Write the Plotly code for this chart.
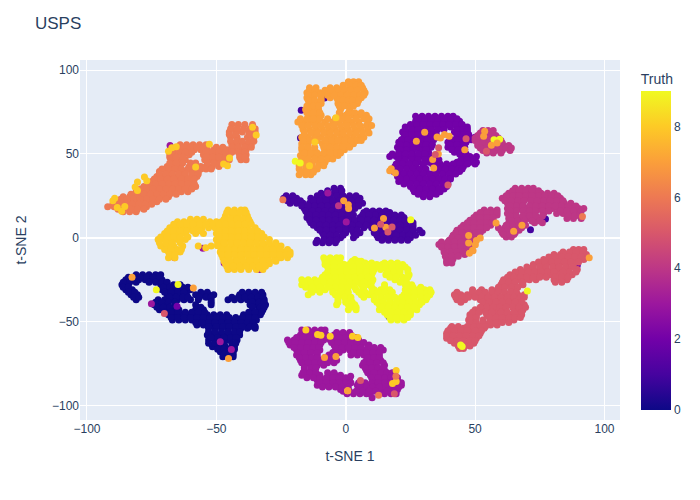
import plotly.express as px
import pandas as pd

# each cluster: rows of (t-SNE 2, [t-SNE 1 values])
class0_rows = [
    (-22, [-81, -78.5, -76, -73.5, -71.5]),
    (-25, [-85, -82.5, -80, -77.5, -75, -72.5, -71]),
    (-28, [-86.5, -84, -71.5, -69, -66.5, -64]),
    (-31, [-85, -82.5, -71, -68.5, -66, -63.5, -61, -60]),
    (-34, [-83, -80.5, -69, -66.5, -64, -61.5, -58, -55.5, -53, -51, -41, -38.5, -36, -33.5, -32]),
    (-37, [-81, -72.5, -70, -67.5, -65, -62.5, -60, -57, -52, -45.5, -43, -40.5, -38, -35.5, -33, -31.5]),
    (-40, [-74, -71.5, -69, -66, -58, -52, -37, -34.5, -32, -31]),
    (-43, [-72, -69.5, -67, -64.5, -58, -55, -36, -33.5, -32]),
    (-46, [-68.5, -66, -63.5, -61, -58.5, -56, -53.5, -51, -48.5, -46, -39.5, -37, -34.5, -33]),
    (-49, [-67, -64.5, -62, -59.5, -57, -54.5, -52, -49.5, -47, -44.5, -42, -39.5, -37, -34.5]),
    (-52, [-57.5, -55, -52.5, -50, -47.5, -45, -42.5, -40, -37.5, -35.5]),
    (-54, [-53, -50.5, -48, -45.5, -43, -40.5, -38, -35]),
    (-58, [-53.5, -51, -48.5, -46, -43.5, -41]),
    (-61, [-53, -50.5, -48, -45.5, -42]),
    (-65, [-51.5, -49, -46.5, -44, -43]),
    (-68, [-48.5, -46, -43.5]),
    (-71, [-47.5, -45, -43.5]),
    (-23.5, [-84, -82, -79.5, -77, -74.5, -72]),
    (-26.5, [-86, -83.5, -81, -76, -73.5, -71, -69]),
    (-29.5, [-86, -84, -70.5, -68, -65.5, -63, -61]),
    (-32.5, [-84, -81.5, -70, -67.5, -65, -62.5, -56, -53.5, -40, -37.5, -35, -32.5]),
    (-35.5, [-82, -80, -68, -65.5, -63, -61, -56.5, -54, -52, -44, -41.5, -39, -36.5, -34, -32]),
    (-38.5, [-73.5, -71, -68.5, -66, -52, -36, -33.5, -31.5]),
    (-41.5, [-73, -70.5, -68, -65.5, -56, -36, -33, -31.5]),
    (-44.5, [-70, -67.5, -65, -62, -59.5, -57, -54.5, -37.5, -35, -32.5]),
    (-47.5, [-67.5, -65, -62.5, -60, -57.5, -55, -52.5, -50, -47.5, -45, -42.5, -40, -37.5, -35]),
    (-50.5, [-58, -55.5, -53, -50.5, -48, -45.5, -43, -40.5, -38, -36]),
    (-53, [-53, -50, -47.5, -45, -42.5, -40, -37, -35]),
    (-56, [-53, -50.5, -48, -45.5, -43, -41]),
    (-59.5, [-52, -49.5, -47, -44.5, -42.5]),
    (-63, [-53, -50.5, -47, -44, -42.5]),
    (-66.5, [-49.5, -47, -45, -43]),
    (-69.5, [-47, -45, -43.5]),
]
class1_rows = [
    (29.5, [-4.5, -2]),
    (26.5, [-9.5, -7, -4.5, -2]),
    (23.5, [-24, -21.5, -19, -13.5, -11, -8.5, -6, -3.5, -1, 1, 3.5, 5.5]),
    (20.5, [-21.5, -19, -16.5, -14, -11.5, -9, -6.5, -4, -1.5, 1, 3.5, 6.5]),
    (17.5, [-16, -13.5, -11, -8.5, -6, -3.5, -1, 1.5, 3.5]),
    (15, [-15, -12.5, -10, -7.5, -5, -2.5, 0, 2, 7, 9.5, 12, 14.5, 17]),
    (12, [-15, -12.5, -10, -7.5, -5, -3, 0, 2.5, 5.5, 8, 10.5, 13, 15.5, 18, 20.5, 22.5]),
    (9, [-13.5, -11, -8.5, -6, -3.5, -1, 1.5, 4, 6.5, 9, 11.5, 14, 16.5, 19, 21.5, 26]),
    (6, [-11, -8.5, -6, -3.5, -1, 1.5, 4, 7, 10, 12.5, 15, 17.5, 20, 22.5, 25, 26]),
    (3, [-9, -6.5, -4, -1, 0, 3, 5.5, 11, 13.5, 16, 18.5, 21, 23.5, 26, 29.5]),
    (0, [-7.5, -5, -2, 3, 12.5, 15, 17.5, 20, 22.5, 25]),
    (-3, [-11.5, -9, -6.5, -4]),
    (28, [-7, -4, -1.5]),
    (25, [-23, -20.5, -11, -8.5, -6, -3.5, -1, 1.5, 4]),
    (22, [-22.5, -20, -17.5, -12.5, -10, -7.5, -5, -2.5, 0, 2, 5]),
    (19, [-17, -14.5, -12, -9.5, -7, -4.5, -2, 0.5, 3, 5]),
    (16, [-15.5, -13, -10.5, -8, -5.5, -3, -0.5, 2, 8, 10.5, 13, 15.5]),
    (13.5, [-14, -11.5, -9, -6.5, -4, -1.5, 1, 3, 6.5, 9, 11.5, 14, 16.5, 19, 21.5]),
    (10.5, [-14, -11.5, -9, -6.5, -4, -1.5, 1, 3.5, 6, 8.5, 11, 13.5, 16, 18.5, 21, 23]),
    (7.5, [-12.5, -10, -7.5, -5, -2.5, 0, 2.5, 5, 8, 11, 13.5, 16, 18.5, 21, 23.5, 26]),
    (4.5, [-10, -7.5, -5, -2.5, 0, 2.5, 4.5, 11, 13.5, 16, 18.5, 21, 23.5, 26, 28.5]),
    (1.5, [-8.5, -6, -3.5, -1, 4, 12, 14.5, 17, 19.5, 22, 24.5, 27]),
    (-1.5, [-11, -8.5, -6, -3.5, 14, 16.5, 19, 21.5, 24]),
]
class2_rows = [
    (72.5, [27, 29.5, 32, 34.5, 37, 39.5, 41.5]),
    (69.5, [27, 29.5, 32, 34.5, 37, 39.5, 42, 44]),
    (66, [23, 25.5, 28, 30.5, 33, 35.5, 38, 40.5, 43, 45.5, 47]),
    (63, [22, 24.5, 27, 29.5, 32, 34.5, 42, 44.5, 47]),
    (60, [22.5, 25, 27.5, 30, 32.5, 35, 43, 45.5, 48, 50]),
    (57, [20.5, 23, 25.5, 28, 30.5, 33, 39.5, 42, 44.5, 46.5]),
    (54, [20, 22.5, 25, 27.5, 30, 33, 39.5, 42, 44.5, 46]),
    (51, [20.5, 23, 25.5, 29, 32, 42, 44.5, 46]),
    (48.5, [17, 19.5, 21, 23.5, 26, 28.5, 31, 33.5, 45.5, 48, 50.5]),
    (45, [20.5, 23, 25.5, 28, 32, 35, 43, 45.5, 48, 50.5]),
    (42.5, [19, 21.5, 24, 27, 30, 35.5, 38, 40.5, 43, 45.5]),
    (39.5, [18.5, 21, 23.5, 26, 28.5, 31, 34.5, 37, 39.5, 42, 44]),
    (36.5, [20, 22.5, 25, 27.5, 30, 32.5, 35, 37.5, 40.5]),
    (33.5, [20.5, 23, 25.5, 28, 30.5, 33, 35.5, 38, 39]),
    (30.5, [25, 27.5, 30, 32.5, 35, 37.5, 39]),
    (27.5, [26.5, 29, 31.5, 34, 36.5]),
    (24.5, [30, 32.5]),
    (71, [28, 30.5, 33, 35.5, 38, 40.5, 43]),
    (67.5, [25, 27.5, 30, 32.5, 35, 37.5, 40, 42.5, 45]),
    (64.5, [23, 25.5, 28, 30.5, 33, 35.5, 38, 43, 45.5, 47]),
    (61.5, [23, 25.5, 28, 30.5, 33, 35, 43, 45.5, 47.5]),
    (58.5, [21.5, 24, 26.5, 29, 31.5, 34, 41, 43.5, 46, 48.5]),
    (55.5, [21, 23.5, 26, 28.5, 31, 33.5, 40.5, 43, 45.5]),
    (52.5, [21, 23.5, 26, 28.5, 31, 41, 43.5, 46]),
    (50, [18, 20.5, 23, 25.5, 28, 30.5, 44, 46.5]),
    (46.5, [20.5, 23, 25.5, 28, 30.5, 33, 36, 44.5, 47, 49.5]),
    (44, [19.5, 22, 24.5, 27, 30, 33.5, 36.5, 39, 41.5, 44, 47, 50]),
    (41, [18.5, 21, 23.5, 26, 28.5, 31, 36, 38.5, 41, 43.5, 45]),
    (38, [20, 22.5, 25, 27.5, 30, 32.5, 35, 37.5, 40, 42.5]),
    (35, [21, 23.5, 26, 28.5, 31, 33.5, 36, 38.5, 40.5]),
    (32, [22.5, 25, 27.5, 30, 32.5, 35, 37.5, 39.5]),
    (29, [26, 28.5, 31, 33.5, 36, 38]),
    (26, [28, 30.5, 33, 35]),
]
class3_rows = [
    (-55, [-17, -14.5, -12, -9.5, -8]),
    (-58, [-17.5, -15, -12.5, -10, -7.5, -4.5, -2, 0.5, 2]),
    (-61, [-22.5, -20, -17.5, -15, -12.5, -10, -8.5, -6, -3.5, -1, 1.5, 4, 5]),
    (-64, [-21.5, -19, -16.5, -14, -11.5, -10, -4.5, -2, 0.5, 3, 5.5, 9]),
    (-67, [-19, -16.5, -14, -11.5, -10, -3.5, -1, 1.5, 4, 6.5, 9, 11.5, 14.5]),
    (-70, [-19, -16.5, -14, -11, -6.5, -4, 2, 4.5, 7, 9.5, 12, 13]),
    (-73, [-17.5, -15, -12.5, -10, -7.5, -5, -3.5, 8, 10.5, 13.5]),
    (-76, [-16, -13.5, -11, -8.5, 6.5, 9, 11.5, 15]),
    (-79, [-16, -13.5, -12, 8, 10.5, 13, 15]),
    (-82, [-17, -14.5, -12, -10, -6.5, -4, -2, 9.5, 12, 14.5, 17, 19]),
    (-85, [-11, -8.5, -6, -3.5, -1, 1.5, 10.5, 13, 15.5, 18, 20]),
    (-88, [-11, -8.5, -6, -3.5, -1, 4.5, 7, 9.5, 12, 14.5, 17, 19.5, 21.5]),
    (-90.5, [-2, 0.5, 6, 8.5, 11, 13.5, 16, 18.5, 20]),
    (-93, [0.5, 3, 5.5, 8, 9.5, 15, 17.5, 19.5]),
    (-56.5, [-16, -13.5, -11, -8.5, -3.5, -1, 1.5]),
    (-59.5, [-19, -16.5, -14, -11.5, -9, -5, -2.5, 0, 2.5, 4]),
    (-62.5, [-22, -19.5, -17, -14.5, -12, -9.5, -5.5, -3, -0.5, 2, 4.5, 7]),
    (-65.5, [-20, -17.5, -15, -12.5, -10.5, -4, -1.5, 1, 3.5, 6, 8.5, 11, 13.5]),
    (-68.5, [-18.5, -16, -13.5, -11, -5, -2.5, 3, 5.5, 8, 10.5, 13]),
    (-71.5, [-18, -15.5, -13, -11, -8, -5.5, 8.5, 11, 13]),
    (-74.5, [-17, -14.5, -12, -9.5, -7, -4.5, 7, 9.5, 12, 14.5]),
    (-77.5, [-16, -13.5, -11.5, 7.5, 10, 12.5, 14.5]),
    (-80.5, [-16.5, -14, -11.5, -7, -4.5, 8.5, 11, 13.5, 16, 18]),
    (-83.5, [-15, -12.5, -10, -7.5, -5, -2.5, 0, 10, 12.5, 15, 17.5, 20]),
    (-86.5, [-10, -7.5, -5, -2.5, 0, 2, 5, 7.5, 10, 12.5, 15, 17.5, 20, 21.5]),
    (-89, [-9, -6.5, -4, -1.5, 1, 5.5, 8, 10.5, 13, 15.5, 18, 20.5]),
    (-91.5, [-1, 1.5, 4, 6.5, 9, 11.5, 16, 18.5]),
]
class4_rows = [
    (64, [53, 55, 57]),
    (61, [51, 53, 55.5, 58]),
    (58, [50, 52.5, 55, 57.5, 60]),
    (55, [51, 53.5, 56, 58.5, 61, 63]),
    (52, [53, 55.5, 58, 60.5, 63.5]),
    (62.5, [52, 54, 56.5]),
    (59.5, [50, 52, 54.5, 57, 59]),
    (56.5, [51, 53, 55.5, 58, 60.5]),
    (53.5, [52, 54.5, 57, 59.5, 62, 64]),
    (50.5, [54.5, 57, 60]),
    (29.5, [65.5, 68, 70.5, 72.5]),
    (26.5, [63, 65.5, 68, 70.5, 73, 75.5, 78, 80.5]),
    (23.5, [60.5, 63, 65.5, 68, 70.5, 73, 75.5, 78, 80.5, 83]),
    (20.5, [62.5, 65, 67.5, 72, 74.5, 77, 79.5, 82, 84.5, 87]),
    (17.5, [62.5, 65, 67.5, 70, 72.5, 75, 77.5, 80, 82.5, 85, 87.5, 90, 92]),
    (14.5, [62.5, 65, 70, 72.5, 76.5, 81.5, 84, 86.5, 89, 90.5]),
    (11.5, [63, 65.5, 68, 70.5, 73, 75, 85.5, 88, 91]),
    (9, [63, 65.5, 68.5, 73, 76]),
    (6, [59, 61.5, 64, 66.5, 68]),
    (3, [60.5, 63, 65.5]),
    (0.5, [62, 64]),
    (28, [64.5, 67, 69.5, 72, 74.5]),
    (25, [62, 64.5, 67, 69.5, 72, 74.5, 77, 79.5, 82]),
    (22, [61.5, 64, 66.5, 69, 71.5, 74, 76.5, 79, 81.5, 84]),
    (19, [63.5, 66, 68.5, 71, 73.5, 76, 78.5, 81, 83.5, 86, 89]),
    (16, [63.5, 66, 68.5, 71, 73.5, 76, 78.5, 83, 85.5, 88, 91]),
    (13, [63.5, 66, 68.5, 71, 73.5, 76, 86, 88.5, 90.5]),
    (10, [64, 66.5, 69, 72, 75]),
    (7.5, [62, 64.5, 67, 69.5]),
    (4.5, [60, 62.5, 65, 67]),
    (2, [61, 63.5, 65]),
    (16.5, [53.5, 56, 58.5]),
    (13.5, [50.5, 53, 55.5, 58.5]),
    (10.5, [48, 50.5, 53, 55.5, 57]),
    (7.5, [45.5, 48, 50.5, 53, 56]),
    (4.5, [43, 45.5, 48, 50.5, 53]),
    (1.5, [41.5, 44, 46.5, 49.5]),
    (-1.5, [40, 42.5, 45, 47.5, 49.5]),
    (-4, [36, 38.5, 41, 43.5, 46, 48.5]),
    (-7, [38, 40.5, 43, 45.5, 47]),
    (-10, [38.5, 41, 43.5, 46]),
    (-12.5, [39, 41.5]),
    (-15, [39, 41]),
    (15, [52, 54.5, 57, 58.5]),
    (12, [49.5, 52, 54.5, 57]),
    (9, [47, 49.5, 52, 54.5, 56.5]),
    (6, [44.5, 47, 49.5, 52, 54.5]),
    (3, [42.5, 45, 47.5, 50.5, 52]),
    (0, [41, 43.5, 46, 48.5]),
    (-2.5, [37, 39.5, 42, 44.5, 47, 49]),
    (-5.5, [37, 39.5, 42, 44.5, 47]),
    (-8.5, [38, 40.5, 43, 45.5]),
    (-11, [38.5, 41, 43.5]),
    (-14, [39, 41]),
]
class5_rows = [
    (-7, [88, 90, 92]),
    (-10, [80.5, 83, 85.5, 88, 90.5, 93]),
    (-13, [76.5, 79, 81.5, 84, 86.5, 89, 92]),
    (-16, [72.5, 75, 77.5, 80, 82.5, 85, 88]),
    (-19, [67.5, 70, 72.5, 75, 77.5, 80, 81.5, 83, 86, 89.5]),
    (-22, [63.5, 66, 68.5, 71, 73.5, 76, 79, 82, 84.5, 87.5]),
    (-25, [61, 63.5, 66, 69, 71, 73.5, 80.5, 83, 85.5]),
    (-28, [60, 62.5, 65, 68.5]),
    (-31, [49, 52.5, 56.5, 59, 61, 64, 65.5]),
    (-34, [42, 44.5, 47, 49, 51.5, 54, 56.5, 59, 61.5, 64, 66.5, 69]),
    (-37, [43, 46, 52, 54.5, 57, 59.5, 62, 64.5, 67.5]),
    (-40, [53.5, 56, 58.5, 61, 63.5, 66, 69]),
    (-43, [50, 52.5, 55, 58, 61, 66, 68.5]),
    (-46, [48, 50.5, 54.5, 56.5, 59, 61.5, 64, 66.5, 68]),
    (-49, [47.5, 50, 53, 56, 58.5, 61, 63, 65]),
    (-52, [48, 50.5, 53, 56, 58.5]),
    (-54, [40.5, 43, 45.5, 49, 51.5, 53.5]),
    (-57, [39, 41.5, 44, 46.5, 49, 51.5, 52]),
    (-60, [39, 41.5, 43, 45.5, 48, 50.5]),
    (-63, [42, 44.5, 47, 49.5]),
    (-66, [44, 45.5]),
    (-8.5, [84, 86.5, 89, 91.5]),
    (-11.5, [78.5, 81, 83.5, 86, 88.5, 91]),
    (-14.5, [74.5, 77, 79.5, 82, 84.5, 87, 90]),
    (-17.5, [70, 72.5, 75, 77.5, 80, 82.5, 85, 87.5]),
    (-20.5, [65.5, 68, 70.5, 73, 75.5, 78, 80.5, 84, 86.5, 89]),
    (-23.5, [62.5, 65, 67.5, 70, 72.5, 75, 77.5, 81, 83.5, 86]),
    (-26.5, [60.5, 63, 65.5, 68, 81, 83.5]),
    (-29.5, [59, 61.5, 64, 66.5]),
    (-32.5, [43, 49, 51.5, 54, 56.5, 59, 61.5, 64, 66]),
    (-35.5, [42.5, 45, 47.5, 50, 52.5, 55, 57.5, 60, 62.5, 65, 67.5, 69]),
    (-38.5, [44.5, 53, 55.5, 58, 60.5, 63, 65.5, 68]),
    (-41.5, [52, 54.5, 57, 59.5, 62, 64.5, 67, 69.5]),
    (-44.5, [49, 51.5, 54, 56.5, 60, 62.5, 65, 68]),
    (-47.5, [48, 50.5, 55.5, 58, 60.5, 63, 65.5, 67.5]),
    (-50.5, [48, 50.5, 53, 55.5, 58, 60.5, 63]),
    (-53, [41, 43.5, 47, 49.5, 52, 54]),
    (-55.5, [39.5, 42, 44.5, 47, 50, 52.5]),
    (-58.5, [39, 41.5, 44, 46.5, 49, 51.5]),
    (-61.5, [40.5, 43, 45.5, 48, 50]),
    (-64.5, [43.5, 46, 48]),
]
class6_rows = [
    (67.5, [-44, -41.5, -39, -36]),
    (63, [-45, -42.5, -40, -37.5, -35]),
    (60, [-44.5, -42, -38, -35.5]),
    (55.5, [-64, -61.5, -59, -56.5, -54, -44, -41.5, -39, -36.5]),
    (52.5, [-66, -63.5, -61, -58.5, -56, -53.5, -51, -48.5, -46, -43.5, -41, -38.5]),
    (49.5, [-68, -65.5, -63, -60.5, -55, -52.5, -50, -47.5, -45, -41, -38.5]),
    (46.5, [-67, -64.5, -62, -54.5, -52, -49.5, -47, -45, -40.5, -38.5]),
    (42.5, [-69, -66.5, -64, -60.5, -58, -56, -54, -51.5, -49]),
    (39.5, [-72, -69.5, -67, -64.5, -62, -59.5, -57]),
    (36.5, [-73, -70.5, -68, -65, -62, -59.5, -57.5]),
    (33.5, [-75, -72.5, -70, -67.5, -65, -63, -60.5]),
    (30.5, [-78, -75.5, -73, -70.5, -68, -65.5, -63, -60.5, -58]),
    (27.5, [-81, -78.5, -76, -73.5, -71, -68.5, -66, -63.5, -61]),
    (24.5, [-86, -83.5, -81, -78.5, -76, -73.5, -71, -68.5]),
    (21.5, [-88.5, -86, -83.5, -81, -78.5, -76, -73]),
    (18.5, [-92, -89.5, -87, -84.5, -82, -79.5, -77]),
    (15.5, [-86, -83.5, -81]),
    (65, [-44.5, -42, -39.5, -37, -35]),
    (61.5, [-45, -42.5, -37, -35]),
    (57.5, [-44.5, -42, -40, -37.5, -35.5]),
    (54, [-65, -62.5, -60, -57.5, -55, -50, -47.5, -44, -41.5, -39, -36.5]),
    (51, [-67, -64.5, -62, -59.5, -54, -51.5, -49, -46.5, -44, -41.5, -39]),
    (48, [-68, -65.5, -63, -54, -51.5, -49, -46.5, -41, -39]),
    (44.5, [-68, -65.5, -63, -60, -58, -53.5, -51, -48.5, -46.5]),
    (41, [-71, -68.5, -66, -63.5, -61, -58.5, -56, -54, -52]),
    (38, [-72, -69.5, -67, -64.5, -62, -59.5, -57]),
    (35, [-74, -71.5, -69, -66.5, -63.5, -61, -58.5]),
    (32, [-76, -73.5, -71, -68.5, -66, -63.5, -61, -58.5]),
    (29, [-79.5, -77, -74.5, -72, -69.5, -67, -64.5, -62, -59.5]),
    (26, [-83, -80.5, -78, -75.5, -73, -70.5, -68, -65.5]),
    (23, [-87, -84.5, -82, -79.5, -77, -74.5, -72, -69.5]),
    (20, [-90, -87.5, -85, -82.5, -80, -77.5, -75]),
    (17, [-88, -85.5, -83, -80.5, -78]),
]
class7_rows = [
    (93, [1, 3, 5]),
    (89.5, [-14, -11.5, -6, -3.5, -1, 1.5, 4, 6.5]),
    (86.5, [-15, -12.5, -10, -8, -5.5, -3, -0.5, 2, 4.5, 7.5]),
    (83.5, [-15, -12.5, -9.5, -6, -3.5, -1, 1.5, 4, 6]),
    (80, [-14, -11.5, -9.5, -3, -1, 1, 3.5, 4.5]),
    (76.5, [-15.5, -13, -10.5, -2, 1.5]),
    (73, [-14, -11.5, -9.5, -2, 0, 3, 5.5, 8]),
    (69, [-18.5, -16, -13.5, -11, -8, -5, -2.5, 0, 2.5, 5, 8.5]),
    (64.5, [-16.5, -14, -11.5, -9, -6.5, -4, -1.5, 1, 3.5, 6, 8.5]),
    (60, [-17, -14.5, -12, -9.5, -7, -4.5, -2, 0.5, 3, 5.5, 7]),
    (56, [-17, -14.5, -9, -6.5, -4, -1.5, 1, 3]),
    (52.5, [-17, -14.5, -12, -8, -5.5, -3, -0.5]),
    (49, [-17.5, -15, -12.5, -10, -7.5, -5, -3]),
    (45, [-18, -15.5, -13, -10.5, -8]),
    (41, [-18, -15.5, -13, -11]),
    (37.5, [-18, -15.5, -13.5]),
    (91, [-1, 1.5, 4, 6]),
    (88, [-14, -12, -8, -5.5, -3, -0.5, 2, 4.5, 7]),
    (85, [-14.5, -12, -9.5, -7, -4.5, -2, 0.5, 3, 5.5, 7]),
    (82, [-14.5, -12, -9.5, -3, -1, 1, 2.5, 5]),
    (78.5, [-15, -12.5, -10.5, -2.5, -0.5, 3]),
    (74.5, [-15, -12.5, -10, -2.5, 1, 3.5, 6]),
    (71, [-17.5, -15, -12.5, -10, -7, -4, -1.5, 1, 4, 7, 9]),
    (67, [-17, -14.5, -12, -9.5, -7, -4.5, -2, 0.5, 3, 5.5, 8, 10]),
    (62.5, [-16, -13.5, -11, -8.5, -6, -3.5, -1, 1.5, 4, 6.5, 9]),
    (58, [-16.5, -14, -11, -8, -5.5, -3, -0.5, 2, 4.5, 6]),
    (54, [-17, -14.5, -12, -8.5, -6, -3.5, -1, 1.5]),
    (50.5, [-16, -13.5, -11, -8.5, -6, -3.5, -2]),
    (47, [-17, -14.5, -12, -9.5, -7, -5]),
    (43, [-18, -15.5, -13, -10.5, -8.5]),
    (39, [-17, -15, -12.5]),
]
class8_rows = [
    (16.5, [-45.5, -43, -40.5, -39]),
    (13, [-46.5, -44, -41.5, -39, -38]),
    (9.5, [-65, -62.5, -60, -57.5, -55, -52.5, -50, -48, -45.5, -43, -40.5, -37]),
    (6, [-68, -65.5, -63, -60.5, -58, -55.5, -53, -50.5, -48, -45.5, -43, -40.5, -38, -35]),
    (2.5, [-70, -67.5, -65, -62, -58, -55, -50, -47.5, -45, -42.5, -40, -37.5, -35, -32.5]),
    (-1, [-72.5, -70, -67.5, -65, -62, -50, -47.5, -45, -42.5, -40, -37.5, -35, -32.5, -29.5]),
    (-5, [-71.5, -69, -66.5, -63, -57, -52, -49, -46.5, -44, -41.5, -39, -36.5, -34, -31.5, -29, -26.5, -25]),
    (-8.5, [-68.5, -66, -64, -48.5, -46, -43.5, -41, -38.5, -36, -33.5, -31, -28.5, -26, -23.5, -21.5]),
    (-12, [-68.5, -66, -47.5, -45, -42.5, -40, -37.5, -35, -32.5, -30, -27.5, -25, -22.5]),
    (-15.5, [-46.5, -44, -41.5, -39, -36.5, -34, -31.5, -29.5]),
    (-19, [-45.5, -43, -40.5, -37.5, -34.5, -32]),
    (15, [-46, -43.5, -41, -38.5]),
    (11, [-60, -57.5, -55, -47, -44.5, -42, -39.5, -37.5]),
    (8, [-66.5, -64, -61.5, -59, -56.5, -54, -51.5, -49, -46.5, -44, -41.5, -39, -36.5]),
    (4, [-69, -66.5, -64, -61.5, -59, -56, -49, -46.5, -44, -41.5, -39, -36.5, -34]),
    (0.5, [-71.5, -69, -66.5, -64, -61, -49, -46.5, -44, -41.5, -39, -36.5, -34, -31.5]),
    (-3, [-72, -69.5, -67, -64, -49.5, -47, -44.5, -42, -39.5, -37, -34.5, -32, -29.5, -27]),
    (-7, [-70, -67.5, -65, -63.5, -48, -45.5, -43, -40.5, -38, -35.5, -33, -30.5, -28, -25.5, -22.5]),
    (-10, [-68, -66, -48, -45.5, -43, -40.5, -38, -35.5, -33, -30.5, -28, -25.5, -23, -21.5]),
    (-14, [-47, -44.5, -42, -39.5, -37, -34.5, -32, -29.5, -27]),
    (-17, [-46, -43.5, -41, -38.5, -36, -33.5, -31]),
]
class9_rows = [
    (-12, [-8.5, -6, -3.5, -2]),
    (-14, [-8, -5.5, -3, 2.5, 5, 6]),
    (-16, [-8, -5.5, -3, -0.5, 1.5, 4, 6.5, 9, 12, 14, 16.5, 19, 22]),
    (-19, [-6, -3.5, -1, 1, 3.5, 6, 8.5, 11, 13.5, 16, 18.5, 21, 24]),
    (-22, [-8, -5.5, -3, -0.5, 2, 4.5, 7, 10, 15.5, 18, 20.5, 24.5]),
    (-25, [-17, -14.5, -12, -9.5, -7, -4.5, -2, 0.5, 3, 5.5, 8, 10.5, 19, 22]),
    (-28, [-17, -14.5, -12, -9.5, -7, -4.5, -2, 0.5, 3, 6, 9, 15, 23, 25.5]),
    (-31, [-13.5, -11, -8, -5, -2.5, 0, 4, 6.5, 11, 13.5, 17, 23, 25.5, 28, 30.5, 32.5]),
    (-34, [-14.5, -4, -1.5, 0.5, 6, 9, 11, 13.5, 17, 22.5, 25, 27.5, 30, 32.5]),
    (-37, [-3, 0, 2, 11, 13.5, 17, 21, 23.5, 26, 29, 31]),
    (-40, [-3.5, 1, 3.5, 13, 15.5, 18, 20.5, 23, 25.5, 28.5]),
    (-43, [1, 4, 13, 15.5, 18, 20.5, 23, 25.5, 27.5]),
    (-46, [16, 18.5, 21, 23.5, 25]),
    (-49, [17.5, 20, 22.5]),
    (-13, [-7.5, -5, -2.5, 3.5]),
    (-15, [-7, -4.5, -2, 2, 5, 7.5, 10, 15, 17.5, 20]),
    (-17.5, [-7, -4.5, -2, 0.5, 3, 5.5, 8, 10.5, 13, 15.5, 18, 20.5, 23]),
    (-20.5, [-7, -4.5, -2, 0.5, 3, 5.5, 8, 10.5, 16, 18.5, 21, 24]),
    (-23.5, [-9, -6.5, -4, -1.5, 1, 3.5, 6, 8.5, 17, 19.5, 22, 24]),
    (-26.5, [-16, -13.5, -11, -8.5, -6, -3.5, -1, 1.5, 4, 7, 10, 21, 23.5]),
    (-29.5, [-15.5, -13, -10, -7, -4, -1.5, 1, 3.5, 7, 10, 15, 23.5, 26, 29]),
    (-32.5, [-13, -10, -5, -2, 1, 5, 7.5, 10, 12.5, 15, 18, 24, 26.5, 29, 31.5, 33]),
    (-35.5, [-3, -0.5, 2, 7, 11, 13.5, 16, 19, 21.5, 24, 26.5, 29, 31.5]),
    (-38.5, [-3, 0, 2.5, 12, 14.5, 17, 19.5, 22, 24.5, 27, 29.5]),
    (-41.5, [2, 4, 14, 16.5, 19, 21.5, 24, 26.5]),
    (-44.5, [15, 17.5, 20, 22.5, 25]),
    (-47.5, [17, 19.5, 22, 24]),
]

# points peeking out from under a cluster, drawn first
under_x = [-67.9, -8.2, -1.5, -17.2, -17.5, 71.4, 77.2, 39.4, 16.7, -55.2, -47, -33.3, -66.2, -45.3, 89.5, 58.5, 17.6]
under_y = [55, 83.4, 71.5, 76, 59.5, 4.8, 11.2, -59.3, -47, -6.2, -15, -19, -12, -18.7, -16.5, -46.6, -18.5]
under_truth = [3, 1, 1, 1, 1, 1, 1, 0, 0, 3, 3, 3, 6, 6, 2, 4, 7]

# single points of another class, drawn on top
stray_x = [
    -36, -34.6, -52.7, -44.9, -47.2, -45.7, -58, -77.8, -76.9, -80.5, -81.4, -80.5, -89.3, -90, -88.3,
    -86.6, -85.4, -68.5, -67.2, -65.5, -14, -3.8, -11.9, -19.5, -17.6, -24.3, -0.8, 1,
    1.1, -2.8, -6.9, 0.2, 30.5, 27.3, 35.3, 36.6, 38.2, 40, 46, 33.6, 35.8, 34, 17.6, 17, 19.2, 14.6, 11.1, 15.5,
    35.9, 39.5, 46.5, 34.6, 13.5, 17.9, 16.3, 57.3, 59.5, 25.1, 68.1, 64.9, 58.1, 47.5, 47.5, 50.5, 52, 49,
    53.7, 53.3, 56.3, 58.5, 54.4, 91.5, -82.6, -58.9, -45.3, -73.2, -64.8, -75.1, -48.5, -44.2,
    -65.2, -70.1, -54.1, -49.6, -15.4, -10.9, -9.6, -6, 0.7, -8.2, -3.8, 2.6,
    4.7, 19.5, 18.1, 19.5, 19.4, 12.7, 5.7, 18.8, 0.8, 1.9, 10.2, 44.4, 45, 70.2, 94.1, 47.8, 49.2, 50.1,
]
stray_y = [
    65.9, 61.3, 55.8, 47.6, 44, 43, 42.2, 36.2, 34, 33.3, 30.3, 28.1, 23.5, 22.1, 18.1,
    15.8, 18.7, 51.6, 53.6, 54.2, 43, 71.5, 57.1, 45.6, 44.6, 22.7, 22.1, 19.7,
    17.5, 19.1, 26.7, 9.4, 62.9, 57.5, 60.1, 59.5, 61.5, 60.5, 52.4, 46.6, 50, 41.6, 41.2, 40, 38.6, 11.4, 5.8, 6.2,
    53.6, 31.5, 59.1, 49.6, 8, 6.4, 3.4, 58.5, 58.7, 10.8, 7.4, 3.8, 8.8, 1.4, -3.2, -1.6, -0.2, -7.5,
    63.5, 60.5, 55.2, 56.5, 51.6, 12.6, -23.5, -30, -72, -31, -27.9, -39.4, -62.1, -66.7,
    -40.8, -45.2, -6, -4.8, -55, -57.7, -58.1, -58.7, -91.2, -71.5, -70.9, -58.7,
    -59.5, -79.2, -87, -85.8, -82.6, -94, -85.2, -93.1, -91.2, -82.6, -95.5, -63.9, -64.9, -31.8, -12, -9.2, -7.8, -4.2,
]
stray_truth = [
    8, 8, 8, 8, 8, 8, 8, 8, 8, 8, 8, 8, 8, 8, 8,
    8, 8, 8, 8, 8, 8, 8, 8, 9, 9, 6, 7, 7,
    7, 4, 3, 3, 7, 7, 7, 7, 7, 7, 7, 7, 7, 7, 7, 7, 7, 7, 7, 7,
    5, 5, 5, 5, 5, 5, 5, 9, 9, 9, 7, 7, 7, 7, 7, 7, 7, 7,
    7, 7, 7, 7, 5, 6, 7, 7, 7, 9, 9, 3, 3, 3,
    2, 5, 8, 8, 8, 8, 8, 8, 8, 7, 7, 8,
    8, 8, 8, 8, 6, 6, 5, 5, 7, 3, 3, 9, 9, 9, 7, 7, 7, 7,
]

clusters = [class3_rows, class0_rows, class1_rows, class2_rows, class4_rows,
            class5_rows, class6_rows, class7_rows, class8_rows, class9_rows]
cluster_truth = [3, 0, 1, 2, 4, 5, 6, 7, 8, 9]

xs, ys, truth = list(under_x), list(under_y), list(under_truth)
for rows, label in zip(clusters, cluster_truth):
    for y, row in rows:
        for x in row:
            xs.append(x)
            ys.append(y)
            truth.append(label)
xs += stray_x
ys += stray_y
truth += stray_truth

df = pd.DataFrame({"t-SNE 1": xs, "t-SNE 2": ys, "Truth": truth})

fig = px.scatter(df, x="t-SNE 1", y="t-SNE 2", color="Truth", title="USPS", render_mode="svg",
                 color_continuous_scale="Plasma", range_color=[0, 9], template="plotly")
fig.update_traces(marker=dict(size=7, opacity=1, line=dict(width=0)))
fig.update_xaxes(range=[-102.7, 106], tickvals=[-100, -50, 0, 50, 100],
                 ticktext=["−100", "−50", "0", "50", "100"], automargin=True, title_standoff=16)
fig.update_yaxes(range=[-108.7, 106], tickvals=[-100, -50, 0, 50, 100],
                 ticktext=["−100", "−50", "0", "50", "100"], automargin=True, title_standoff=22)
fig.update_layout(width=700, height=500, font_family="Liberation Sans",
                  margin=dict(l=80, r=80, t=60, b=80),
                  title=dict(x=0.05, y=0.965),
                  coloraxis_colorbar=dict(title="Truth", tickvals=[0, 2, 4, 6, 8]))

# the page body has a default margin, drop it so the figure sits at the window corner
fig.write_html("out.html", config={"displayModeBar": False},
               post_script="document.body.style.margin = '0';")
